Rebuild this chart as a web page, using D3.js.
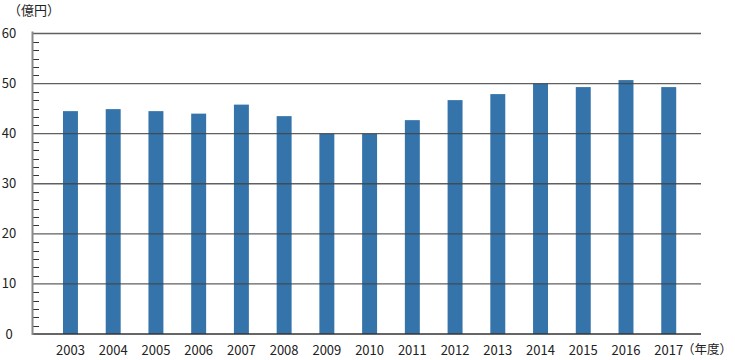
<!DOCTYPE html>
<html><head><meta charset="utf-8">
<script src="https://cdn.jsdelivr.net/npm/d3@7"></script>
<style>body{margin:0;background:#fff}svg{display:block}text{font-family:"Noto Sans CJK JP","Noto Sans",sans-serif;font-size:13px;fill:#222}</style>
</head><body>
<script>
const years = ["2003","2004","2005","2006","2007","2008","2009","2010","2011","2012","2013","2014","2015","2016","2017"];
const values = [44.5,44.9,44.5,44.0,45.8,43.5,40.0,40.0,42.7,46.7,47.9,50.0,49.3,50.7,49.3];
const yTicks = [0,10,20,30,40,50,60];
const yUnit = "（億円）";
const xUnit = "（年度）";

const W=735,H=360;
const svg=d3.select("body").append("svg").attr("width",W).attr("height",H);
const axisX=33, plotRight=701;
const y=d3.scaleLinear().domain([0,60]).range([334,33.5]);
const x=d3.scaleBand().domain(years).range([49.1,690.1]).paddingInner(0.65).paddingOuter(0.325);

// minor ticks
const minor=d3.range(0,60,10/6).filter(v=>Math.abs(v%10)>0.01 && Math.abs(v%10-10)>0.01);
svg.append("g").selectAll("line").data(minor).join("line")
 .attr("x1",axisX).attr("x2",axisX+6).attr("y1",d=>Math.round(y(d))+0.5).attr("y2",d=>Math.round(y(d))+0.5)
 .attr("stroke","#333").attr("stroke-width",1);

// bars
svg.append("g").selectAll("rect").data(years).join("rect")
 .attr("x",d=>x(d)).attr("width",x.bandwidth())
 .attr("y",(d,i)=>y(values[i])).attr("height",(d,i)=>y(0)-y(values[i]))
 .attr("fill","#3474aa");

// gridlines (drawn over bars)
svg.append("g").selectAll("line").data(yTicks.filter(t=>t>0)).join("line")
 .attr("x1",axisX).attr("x2",plotRight).attr("y1",d=>y(d)).attr("y2",d=>y(d))
 .attr("stroke","#444").attr("stroke-opacity",0.85).attr("stroke-width",1.3);
// baseline
svg.append("line").attr("x1",axisX).attr("x2",plotRight).attr("y1",y(0)).attr("y2",y(0))
 .attr("stroke","#333").attr("stroke-width",1.5);
// y axis line
svg.append("line").attr("x1",axisX-0.5).attr("x2",axisX-0.5).attr("y1",y(60)-2).attr("y2",y(0)+1)
 .attr("stroke","#888").attr("stroke-width",2);

// y labels
svg.append("g").selectAll("text").data(yTicks).join("text")
 .attr("x",9).attr("y",d=>y(d)).attr("dy","0.35em").attr("text-anchor","middle").text(d=>d);
// x labels
svg.append("g").selectAll("text").data(years).join("text")
 .attr("x",d=>x(d)+x.bandwidth()/2).attr("y",350).attr("dy","0.35em").attr("text-anchor","middle").text(d=>d);

svg.append("text").attr("x",8).attr("y",10).attr("dy","0.35em").text(yUnit);
svg.append("text").attr("x",682).attr("y",350).attr("dy","0.35em").style("font-size","12.5px").text(xUnit);
</script>
</body></html>
